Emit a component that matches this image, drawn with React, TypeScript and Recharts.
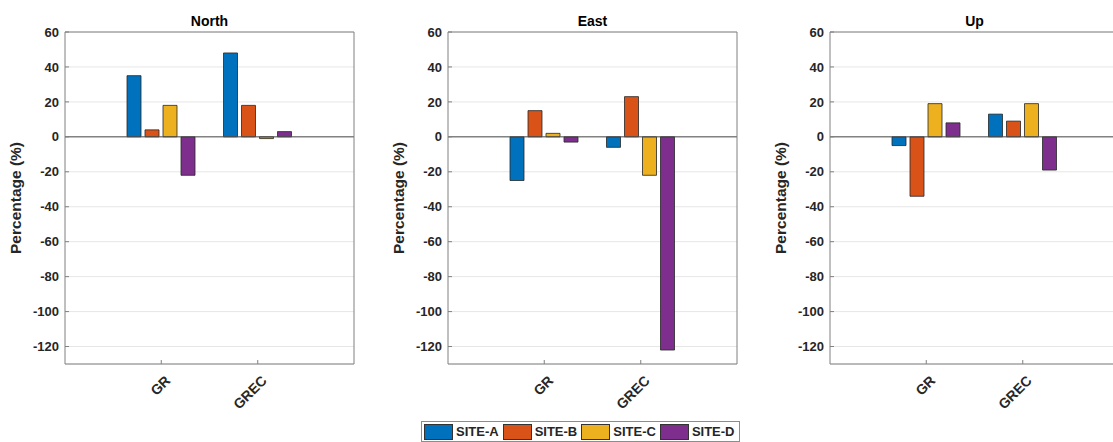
import React from "react";
import { BarChart, Bar, XAxis, YAxis, CartesianGrid, ReferenceLine } from "recharts";

const categories = ["GR", "GREC"];
const siteNames = ["SITE-A", "SITE-B", "SITE-C", "SITE-D"];
const siteColors = ["#0072BD", "#D95319", "#EDB120", "#7E2F8E"];
const yTicks = [-120, -100, -80, -60, -40, -20, 0, 20, 40, 60];

// percentage per site, one value per category (GR, GREC)
const northA = [35, 48];
const northB = [4, 18];
const northC = [18, -1];
const northD = [-22, 3];

const eastA = [-25, -6];
const eastB = [15, 23];
const eastC = [2, -22];
const eastD = [-3, -122];

const upA = [-5, 13];
const upB = [-34, 9];
const upC = [19, 19];
const upD = [8, -19];

const buildRows = (a: number[], b: number[], c: number[], d: number[]) =>
  categories.map((cat, i) => ({ cat, s0: a[i], s1: b[i], s2: c[i], s3: d[i] }));

const panels = [
  { title: "North", left: 0, rows: buildRows(northA, northB, northC, northD) },
  { title: "East", left: 382.7, rows: buildRows(eastA, eastB, eastC, eastD) },
  { title: "Up", left: 765, rows: buildRows(upA, upB, upC, upD) },
];

const FONT = '"Liberation Sans", Arial, Helvetica, sans-serif';
const TEXT = "#262626";
const AXIS = "#808080";
const CHART_W = 380;
const CHART_H = 442;
const PLOT_LEFT = 65;
const PLOT_TOP = 32;
const PLOT_BOTTOM = 364;
const PLOT_W = 289;

const CatTick = (props: any) => {
  const { x, payload } = props;
  return (
    <text
      transform={`translate(${x + 10},${PLOT_BOTTOM + 17.5}) rotate(-45)`}
      textAnchor="end"
      fontFamily={FONT}
      fontWeight="bold"
      fontSize={14}
      fill={TEXT}
    >
      {payload.value}
    </text>
  );
};

function Panel({ title, left, rows }: { title: string; left: number; rows: any[] }) {
  const cx = PLOT_LEFT + PLOT_W / 2;
  const cy = (PLOT_TOP + PLOT_BOTTOM) / 2;
  return (
    <div style={{ position: "absolute", left, top: 0, width: CHART_W, height: CHART_H }}>
      <BarChart
        width={CHART_W}
        height={CHART_H}
        data={rows}
        margin={{ top: PLOT_TOP, right: CHART_W - PLOT_LEFT - PLOT_W, left: 0, bottom: 0 }}
        barSize={14}
        barGap={4}
      >
        <CartesianGrid vertical={false} stroke="#e6e6e6" />
        <XAxis
          dataKey="cat"
          height={CHART_H - PLOT_BOTTOM}
          padding={{ left: 48, right: 48 }}
          stroke={AXIS}
          tickSize={-4}
          tickMargin={4}
          tick={<CatTick />}
          interval={0}
        />
        <XAxis
          xAxisId="top"
          dataKey="cat"
          orientation="top"
          mirror
          height={1}
          padding={{ left: 48, right: 48 }}
          stroke={AXIS}
          tick={false}
          tickSize={4}
        />
        <YAxis
          domain={[-130, 60]}
          ticks={yTicks}
          width={PLOT_LEFT}
          stroke={AXIS}
          tickSize={-4}
          tickMargin={10}
          interval={0}
          tick={{ fill: TEXT, fontFamily: FONT, fontWeight: "bold", fontSize: 13 }}
        />
        <YAxis
          yAxisId="right"
          orientation="right"
          mirror
          width={1}
          domain={[-130, 60]}
          ticks={yTicks}
          stroke={AXIS}
          tick={false}
          tickSize={4}
        />
        <ReferenceLine y={0} stroke="#4d4d4d" />
        {siteNames.map((name, i) => (
          <Bar
            key={name}
            dataKey={`s${i}`}
            name={name}
            fill={siteColors[i]}
            stroke="#262626"
            strokeWidth={0.8}
            isAnimationActive={false}
          />
        ))}
      </BarChart>
      <svg
        width={CHART_W}
        height={CHART_H}
        style={{ position: "absolute", left: 0, top: 0, pointerEvents: "none" }}
      >
        <text x={cx} y={26} textAnchor="middle" fontFamily={FONT} fontWeight="bold" fontSize={14} fill="#000">
          {title}
        </text>
        <text
          transform={`translate(21,${cy}) rotate(-90)`}
          textAnchor="middle"
          fontFamily={FONT}
          fontWeight="bold"
          fontSize={15.5}
          fill={TEXT}
        >
          Percentage (%)
        </text>
      </svg>
    </div>
  );
}

function Legend() {
  return (
    <div
      style={{
        position: "absolute",
        left: 421,
        top: 421,
        height: 19,
        display: "flex",
        alignItems: "center",
        border: "1px solid #8c8c8c",
        background: "#fff",
        padding: "0 4px 0 2px",
        fontFamily: FONT,
        fontWeight: "bold",
        fontSize: 13,
        color: TEXT,
      }}
    >
      {siteNames.map((name, i) => (
        <div key={name} style={{ display: "flex", alignItems: "center", marginRight: i < 3 ? 4 : 0 }}>
          <div
            style={{
              width: 27,
              height: 14,
              background: siteColors[i],
              border: "1px solid #333",
              marginRight: 3,
            }}
          />
          <span>{name}</span>
        </div>
      ))}
    </div>
  );
}

export default function App() {
  return (
    <div
      style={{
        position: "absolute",
        left: 0,
        top: 0,
        width: 1113,
        height: 442,
        overflow: "hidden",
        background: "#fff",
      }}
    >
      {panels.map((p) => (
        <Panel key={p.title} title={p.title} left={p.left} rows={p.rows} />
      ))}
      <Legend />
    </div>
  );
}
